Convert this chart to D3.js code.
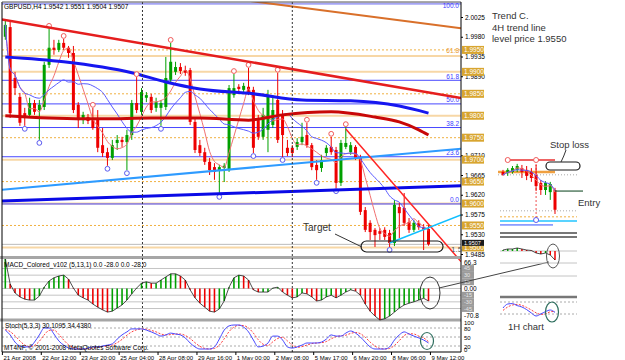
<!DOCTYPE html>
<html lang="en">
<head>
  <meta charset="UTF-8">
  <title>GBPUSD,H4</title>
  <script src="https://d3js.org/d3.v7.min.js"></script>
  <style>
    body, html { margin: 0; background: #fff; }
    svg { display: block; font-family: 'Liberation Sans', Arial, sans-serif; }
  </style>
</head>
<body>
<svg id="chart" width="625" height="360"></svg>
<script>
// ---- price bars (H4) ----
const openP = [1.9980,2.0002,1.9886,1.9843,1.9806,1.9802,1.9829,1.9813,1.9820,1.9916,
  1.9955,1.9950,1.9966,1.9955,1.9943,1.9825,1.9790,1.9797,1.9790,1.9795,
  1.9733,1.9717,1.9704,1.9738,1.9745,1.9740,1.9756,1.9829,1.9809,1.9841,
  1.9843,1.9818,1.9818,1.9820,1.9882,1.9900,1.9911,1.9904,1.9904,1.9786,
  1.9733,1.9717,1.9695,1.9683,1.9676,1.9681,1.9676,1.9847,1.9866,1.9859,
  1.9866,1.9859,1.9790,1.9752,1.9768,1.9779,1.9836,1.9802,1.9727,1.9727,
  1.9729,1.9740,1.9756,1.9733,1.9688,1.9681,1.9715,1.9729,1.9722,1.9647,
  1.9729,1.9717,1.9729,1.9704,1.9585,1.9556,1.9540,1.9537,1.9540,1.9533,
  1.9510,1.9592,1.9590,1.9558,1.9540,1.9556,1.9546,1.9542];
const highP = [2.0018,2.0014,1.9900,1.9852,1.9818,1.9841,1.9836,1.9836,1.9923,1.9998,
  1.9973,1.9973,1.9975,1.9959,1.9959,1.9831,1.9809,1.9804,1.9818,1.9813,
  1.9772,1.9727,1.9745,1.9756,1.9752,1.9768,1.9836,1.9888,1.9863,1.9854,
  1.9850,1.9841,1.9836,1.9934,1.9966,1.9923,1.9920,1.9914,1.9909,1.9795,
  1.9745,1.9727,1.9704,1.9692,1.9688,1.9692,1.9870,1.9895,1.9872,1.9875,
  1.9909,1.9866,1.9802,1.9818,1.9859,1.9847,1.9898,1.9813,1.9745,1.9733,
  1.9749,1.9784,1.9784,1.9738,1.9699,1.9711,1.9733,1.9752,1.9729,1.9745,
  1.9774,1.9740,1.9733,1.9711,1.9592,1.9562,1.9544,1.9544,1.9546,1.9540,
  1.9608,1.9601,1.9624,1.9567,1.9562,1.9562,1.9553,1.9551];
const lowP = [1.9973,1.9795,1.9847,1.9777,1.9777,1.9795,1.9802,1.9745,1.9813,1.9909,
  1.9939,1.9945,1.9950,1.9932,1.9806,1.9772,1.9781,1.9781,1.9768,1.9717,
  1.9706,1.9686,1.9699,1.9722,1.9729,1.9676,1.9745,1.9806,1.9802,1.9831,
  1.9806,1.9809,1.9777,1.9813,1.9877,1.9893,1.9895,1.9891,1.9779,1.9715,
  1.9708,1.9688,1.9665,1.9654,1.9622,1.9649,1.9672,1.9841,1.9854,1.9852,
  1.9847,1.9715,1.9745,1.9745,1.9717,1.9772,1.9738,1.9706,1.9708,1.9706,
  1.9722,1.9733,1.9727,1.9676,1.9654,1.9672,1.9708,1.9711,1.9635,1.9640,
  1.9724,1.9711,1.9699,1.9574,1.9535,1.9517,1.9501,1.9517,1.9517,1.9501,
  1.9503,1.9521,1.9549,1.9533,1.9535,1.9540,1.9494,1.9504];
const closeP = [2.0007,1.9806,1.9863,1.9784,1.9797,1.9829,1.9809,1.9825,1.9916,1.9955,
  1.9950,1.9966,1.9955,1.9943,1.9813,1.9790,1.9802,1.9788,1.9772,1.9727,
  1.9715,1.9704,1.9733,1.9745,1.9740,1.9756,1.9829,1.9813,1.9854,1.9847,
  1.9813,1.9831,1.9829,1.9886,1.9923,1.9911,1.9902,1.9898,1.9786,1.9722,
  1.9715,1.9695,1.9676,1.9672,1.9683,1.9686,1.9863,1.9863,1.9861,1.9868,
  1.9854,1.9727,1.9752,1.9802,1.9847,1.9813,1.9745,1.9756,1.9715,1.9715,
  1.9740,1.9752,1.9733,1.9683,1.9676,1.9699,1.9727,1.9717,1.9647,1.9738,
  1.9738,1.9733,1.9704,1.9581,1.9540,1.9535,1.9528,1.9531,1.9524,1.9510,
  1.9597,1.9578,1.9556,1.9540,1.9556,1.9546,1.9540,1.9507];

const fractalUp = [9, 12, 18, 27, 34, 47, 50, 56, 62, 67, 70];
const fractalDown = [4, 7, 21, 25, 32, 44, 51, 57, 64, 68, 79];

// slow moving averages, read at a few bars
const blueMaBars = [0, 12, 26, 33, 40, 51, 61, 71, 81, 87];
const blueMa = [1.9934, 1.9923, 1.9898, 1.9877, 1.9861, 1.9850, 1.9836, 1.9834, 1.9822, 1.9806];
const redMaBars = [0, 9, 20, 30, 40, 50, 57, 67, 76, 81, 85, 87];
const redMa = [1.9800, 1.9795, 1.9793, 1.9795, 1.9795, 1.9790, 1.9802, 1.9809, 1.9797, 1.9786, 1.9768, 1.9756];

// trend lines [bar, price]
const resistLine = [[0, 2.0018], [87, 1.9853]];
const upperLine = [[50, 2.0062], [87, 2.0009]];
const supportLine = [[0, 1.9632], [87, 1.9718]];
const baseLine = [[0, 1.9606], [87, 1.9638]];
const trendC = [[70, 1.9770], [87, 1.9553]];
const shortSupport = [[79, 1.9510], [87, 1.9545]];

const priceTicks = [2.0025,1.9980,1.9935,1.9890,1.9845,1.9800,1.9755,1.9710,1.9665,1.9620,1.9575,1.9530,1.9485];
const solidLevels = [1.9900, 1.9800, 1.9700, 1.9600, 1.9500];
const dashedLevels = [1.9950, 1.9850, 1.9750, 1.9650, 1.9550];
const fibLow = 1.9599, fibHigh = 2.0055;
const fibLevels = [0, 23.6, 38.2, 50, 61.8, 100];
const orangeFib = 1.9936;
const lastPrice = 1.9507;
const separatorBars = [28.2, 59];

// MACD_Colored (5,13,1)
const macd = [66.3,10,-10,-19,-24,-26,-26,-17,3,17,
  24,28,30,21,1,-15,-21,-26,-35,-42,
  -48,-53,-51,-44,-37,-26,-12,1,12,15,
  12,12,19,26,33,33,28,19,-3,-21,
  -33,-42,-51,-53,-46,-28,3,24,30,28,
  19,-3,-8,-8,-8,1,3,-8,-15,-21,
  -19,-10,-12,-19,-28,-26,-19,-15,-21,-15,
  -8,-3,-6,-15,-35,-51,-62,-70.8,-68,-62,
  -53,-44,-37,-33,-30,-26,-22,-28];
const macdLevels = [45, 30, 15, 0, -15, -30, -45];

// Stoch(5,3,3)
const stochMain = [73,57,33,20,17,17,33,57,80,80,60,37,23,13,10,10,10,13,17,17,
  20,23,27,43,57,67,77,77,77,73,67,60,53,57,63,60,57,47,30,17,
  10,10,10,17,43,73,87,90,90,83,67,40,17,20,30,53,53,40,17,13,
  17,23,30,30,30,33,43,57,53,53,63,70,63,50,33,17,10,10,10,17,
  40,57,67,60,53,47,40,30.1];
const stochSignal = [75,68,54,37,23,18,22,36,57,72,73,59,40,24,15,11,10,11,13,16,
  18,20,23,31,42,56,67,74,77,76,72,67,60,57,58,60,60,55,45,31,
  19,12,10,12,23,44,68,83,89,88,80,63,41,26,22,34,45,49,37,23,
  16,18,23,28,30,31,35,44,51,54,56,62,65,61,49,33,20,12,10,12,
  22,38,55,61,60,53,47,34.4];
const stochTicks = [100, 80, 50, 20, 0];

const timeLabels = ["21 Apr 2008","22 Apr 12:00","23 Apr 20:00","25 Apr 04:00","28 Apr 08:00","29 Apr 16:00",
  "1 May 00:00","2 May 08:00","5 May 17:00","6 May 20:00","8 May 06:00","9 May 12:00"];

// 1H inset
const insetOpen = [1.9616,1.9613,1.9616,1.9622,1.9627,1.9622,1.9616,1.9608,1.9585,1.9565,1.9559,1.9565];
const insetHigh = [1.9622,1.9627,1.9633,1.9639,1.9636,1.9633,1.9627,1.9636,1.9593,1.9590,1.9588,1.9571];
const insetLow = [1.9605,1.9605,1.9611,1.9616,1.9599,1.9593,1.9588,1.9562,1.9551,1.9551,1.9537,1.9497];
const insetClose = [1.9608,1.9622,1.9627,1.9633,1.9616,1.9605,1.9599,1.9576,1.9565,1.9585,1.9582,1.9509];
const insetMacd = [1,2,2,3,2,1,0.5,-2,-3,-2,-4,-9];
const insetStoch = [50,70,72,62,55,42,25,10,20,32,40,28];
const insetSignal = [38,55,65,68,63,53,40,26,18,21,31,33];

const svg = d3.select('#chart');
const L = 2, R = 461;
const x = d3.scaleLinear().domain([0, 87]).range([5.3, 428.5]);
const y = d3.scaleLinear().domain([1.9485, 2.0025]).range([254, 17]);
const yM = d3.scaleLinear().domain([-70.8, 66.3]).range([320, 259]);
const yS = d3.scaleLinear().domain([0, 100]).range([352, 322]);
const green = '#00a000', red = '#ee0000';

const defs = svg.append('defs');
defs.append('clipPath').attr('id', 'pc').append('rect').attr('x', L).attr('y', 2).attr('width', R - L).attr('height', 254);
defs.append('clipPath').attr('id', 'pc2').append('rect').attr('x', L).attr('y', 2).attr('width', R - L).attr('height', 261);

const g = svg.append('g').attr('clip-path', 'url(#pc)');

// round number levels
solidLevels.forEach(p => g.append('line').attr('x1', L).attr('x2', R).attr('y1', y(p)).attr('y2', y(p))
  .attr('stroke', '#f7d7a6').attr('stroke-width', 2));
g.append('line').attr('x1', L).attr('x2', R).attr('y1', y(orangeFib)).attr('y2', y(orangeFib))
  .attr('stroke', '#f7d7a6').attr('stroke-width', 2);
dashedLevels.forEach(p => g.append('line').attr('x1', L).attr('x2', R).attr('y1', y(p)).attr('y2', y(p))
  .attr('stroke', '#f0b040').attr('stroke-dasharray', '2,2'));

// fibo
fibLevels.forEach(l => {
  const p = fibLow + (fibHigh - fibLow) * l / 100;
  g.append('line').attr('x1', L).attr('x2', R).attr('y1', y(p)).attr('y2', y(p))
    .attr('stroke', l === 100 ? '#a4a4f4' : '#4848ff').attr('stroke-width', l === 100 ? 2 : 1);
  g.append('text').attr('x', 459).attr('y', Math.max(y(p) - 1.5, 8)).attr('text-anchor', 'end')
    .attr('font-size', '6.5px').attr('fill', '#3c3cff').text(l.toFixed(1));
});
g.append('text').attr('x', 459).attr('y', y(orangeFib) - 3).attr('text-anchor', 'end')
  .attr('font-size', '6.5px').attr('fill', '#e89a30').text('61.8');

// bid line
g.append('line').attr('x1', L).attr('x2', R).attr('y1', y(lastPrice)).attr('y2', y(lastPrice)).attr('stroke', '#bbb');

// candles
d3.range(openP.length).forEach(i => {
  const up = closeP[i] >= openP[i];
  const c = up ? green : red;
  g.append('line').attr('x1', x(i)).attr('x2', x(i)).attr('y1', y(highP[i])).attr('y2', y(lowP[i]))
    .attr('stroke', c).attr('stroke-width', 1);
  const top = y(Math.max(openP[i], closeP[i])), bot = y(Math.min(openP[i], closeP[i]));
  g.append('rect').attr('x', x(i) - 1.5).attr('y', top).attr('width', 3).attr('height', Math.max(1, bot - top)).attr('fill', c);
});

// fast moving averages from closes
const sma = (arr, n) => arr.map((d, i) => d3.mean(arr.slice(Math.max(0, i - n + 1), i + 1)));
const pLine = d3.line().x((d, i) => x(i)).y(d => y(d)).curve(d3.curveMonotoneX);
g.append('path').attr('d', pLine(sma(closeP, 5))).attr('fill', 'none').attr('stroke', '#f07070').attr('stroke-width', 1);
g.append('path').attr('d', pLine(sma(closeP, 13))).attr('fill', 'none').attr('stroke', '#5a5aff').attr('stroke-width', 1);

// slow moving averages
const maLine = d3.line().x(d => x(d[0])).y(d => y(d[1])).curve(d3.curveMonotoneX);
g.append('path').attr('d', maLine(redMaBars.map((b, i) => [b, redMa[i]]))).attr('fill', 'none')
  .attr('stroke', '#c80808').attr('stroke-width', 3);
g.append('path').attr('d', maLine(blueMaBars.map((b, i) => [b, blueMa[i]]))).attr('fill', 'none')
  .attr('stroke', '#1616f0').attr('stroke-width', 3);

// trend lines, extended to the right edge
function trend(pts, color, w, fromLeft, clip) {
  const [a, b] = pts;
  const x0 = x(a[0]), y0 = y(a[1]), x1 = x(b[0]), y1 = y(b[1]);
  const k = (y1 - y0) / (x1 - x0);
  const xs = fromLeft ? L : x0;
  svg.append('line').attr('clip-path', clip || 'url(#pc)')
    .attr('x1', xs).attr('y1', y0 + k * (xs - x0)).attr('x2', R).attr('y2', y0 + k * (R - x0))
    .attr('stroke', color).attr('stroke-width', w);
}
trend(upperLine, '#d9702a', 2, true);
trend(resistLine, '#e51e1e', 2.5, true);
trend(supportLine, '#2e9bff', 2, true);
trend(baseLine, '#0a0ae6', 3, true);
trend(trendC, '#ff2424', 1.5, false, 'url(#pc2)');
trend(shortSupport, '#10bfff', 1.5, false);

// fractals
fractalUp.forEach(i => g.append('circle').attr('cx', x(i)).attr('cy', y(highP[i]) - 3).attr('r', 2.4)
  .attr('fill', '#fff').attr('stroke', '#f05a5a'));
fractalDown.forEach(i => g.append('circle').attr('cx', x(i)).attr('cy', y(lowP[i]) + 3).attr('r', 2.4)
  .attr('fill', '#fff').attr('stroke', '#5a5af0'));

svg.append('text').attr('x', 4).attr('y', 9).attr('font-size', '6.5px').attr('fill', '#000')
  .text('GBPUSD,H4  1.9542 1.9551 1.9504 1.9507');

// panel separators and frame
svg.append('rect').attr('x', 0).attr('y', 256).attr('width', R).attr('height', 3).attr('fill', '#a6a6a6');
svg.append('rect').attr('x', 0).attr('y', 318.5).attr('width', R).attr('height', 3).attr('fill', '#a6a6a6');
separatorBars.forEach(b => svg.append('line').attr('x1', x(b)).attr('x2', x(b)).attr('y1', 2).attr('y2', 352)
  .attr('stroke', '#333').attr('stroke-dasharray', '2,2'));

// MACD panel
macdLevels.forEach(v => svg.append('line').attr('x1', L).attr('x2', R).attr('y1', yM(v)).attr('y2', yM(v))
  .attr('stroke', '#c4c4c4'));
macd.forEach((v, i) => {
  const c = i === 0 || v >= macd[i - 1] ? green : red;
  svg.append('line').attr('x1', x(i)).attr('x2', x(i)).attr('y1', yM(0)).attr('y2', yM(v))
    .attr('stroke', c).attr('stroke-width', 1.6);
});
svg.append('path').attr('d', d3.line().x((d, i) => x(i)).y(d => yM(d))(macd))
  .attr('fill', 'none').attr('stroke', '#222').attr('stroke-width', 0.8);
svg.append('text').attr('x', 4).attr('y', 267).attr('font-size', '6.5px')
  .text('MACD_Colored_v102 (5,13,1) 0.0 -28.0 0.0 -28.0');

// Stoch panel
[80, 50, 20].forEach(v => svg.append('line').attr('x1', L).attr('x2', R).attr('y1', yS(v)).attr('y2', yS(v))
  .attr('stroke', '#aaa').attr('stroke-dasharray', '2,2'));
const sLine = d3.line().x((d, i) => x(i)).y(d => yS(d)).curve(d3.curveMonotoneX);
svg.append('path').attr('d', sLine(stochSignal)).attr('fill', 'none').attr('stroke', '#ff3c3c').attr('stroke-dasharray', '2,1.5');
svg.append('path').attr('d', sLine(stochMain)).attr('fill', 'none').attr('stroke', '#4646ff');
svg.append('text').attr('x', 5).attr('y', 328).attr('font-size', '6.5px').text('Stoch(5,3,3) 30.1095 34.4380');
svg.append('text').attr('x', 4).attr('y', 350).attr('font-size', '6.5px')
  .text('MT4NF, \u00a9 2001-2008 MetaQuotes Software Corp.');

// frame
svg.append('line').attr('x1', L).attr('x2', L).attr('y1', 2).attr('y2', 352).attr('stroke', '#000');
svg.append('line').attr('x1', L).attr('x2', R).attr('y1', 2).attr('y2', 2).attr('stroke', '#555');
svg.append('line').attr('x1', L).attr('x2', R).attr('y1', 352).attr('y2', 352).attr('stroke', '#000');

// price axis; ticks hidden under a level box are left out, as on the terminal
const levelBoxes = solidLevels.concat(dashedLevels);
const shownTicks = priceTicks.filter(t => levelBoxes.every(p => Math.abs(y(p) - y(t)) > 3.5));
const ax = svg.append('g').attr('transform', `translate(${R},0)`)
  .call(d3.axisRight(y).tickValues(shownTicks).tickSize(2).tickPadding(2).tickFormat(d3.format('.4f')));
ax.select('.domain').remove();
ax.selectAll('text').attr('font-size', '6.5px').attr('font-family', null);
svg.append('line').attr('x1', R).attr('x2', R).attr('y1', 2).attr('y2', 352).attr('stroke', '#000');

levelBoxes.forEach(p => {
  svg.append('rect').attr('x', 462).attr('y', y(p) - 4).attr('width', 22).attr('height', 8).attr('fill', '#d8a530');
  svg.append('text').attr('x', 464).attr('y', y(p) + 2.4).attr('font-size', '6.5px').attr('fill', '#fff').text(p.toFixed(4));
});
svg.append('rect').attr('x', 462).attr('y', y(lastPrice) - 4.5).attr('width', 22).attr('height', 6).attr('fill', '#1a1a1a');
svg.append('text').attr('x', 464).attr('y', y(lastPrice) + 1).attr('font-size', '5.5px').attr('fill', '#fff').text(lastPrice.toFixed(4));

// MACD axis
macdLevels.filter(v => v !== 0).forEach(v => {
  svg.append('rect').attr('x', 462).attr('y', yM(v) - 3.4).attr('width', 12).attr('height', 6.8).attr('fill', '#9b9b9b');
  svg.append('text').attr('x', 464).attr('y', yM(v) + 2).attr('font-size', '5.5px').attr('fill', '#e8e8e8').text(v);
});
svg.append('text').attr('x', 464).attr('y', yM(0) + 2.3).attr('font-size', '6.5px').text('0.00');
svg.append('text').attr('x', 464).attr('y', 265).attr('font-size', '6.5px').text('66.3');
svg.append('text').attr('x', 464).attr('y', 318).attr('font-size', '6.5px').text('-70.8');

// Stoch axis
stochTicks.forEach(v => svg.append('text').attr('x', 464).attr('y', Math.min(yS(v) + 2.5, 352)).attr('font-size', '6px').text(v));

// time axis
timeLabels.forEach((t, k) => {
  const tx = x(k * 8 - 0.6);
  svg.append('line').attr('x1', tx).attr('x2', tx).attr('y1', 352).attr('y2', 355).attr('stroke', '#000');
  svg.append('text').attr('x', tx + 1).attr('y', 359.5).attr('font-size', '6px').text(t);
});

// annotations on the main chart
svg.append('rect').attr('x', 361).attr('y', 241).attr('width', 82).attr('height', 11).attr('rx', 5.5)
  .attr('fill', 'none').attr('stroke', '#1a1a1a').attr('stroke-width', 1.2);
svg.append('line').attr('x1', 335).attr('y1', 234).attr('x2', 362).attr('y2', 247).attr('stroke', '#333');
svg.append('text').attr('x', 303).attr('y', 231).attr('font-size', '10px').attr('fill', '#333').text('Target');
svg.append('text').attr('x', 451).attr('y', 252).attr('font-size', '8px').attr('fill', '#555').text('1.5');
svg.append('ellipse').attr('cx', 430).attr('cy', 293).attr('rx', 10).attr('ry', 16)
  .attr('fill', 'none').attr('stroke', '#333');
svg.append('ellipse').attr('cx', 427).attr('cy', 341).attr('rx', 6.5).attr('ry', 8.5)
  .attr('fill', 'none').attr('stroke', '#2f6f5f').attr('stroke-width', 1.2);
svg.append('line').attr('x1', 439).attr('y1', 288).attr('x2', 549).attr('y2', 262).attr('stroke', '#444');

['Trend C.', '4H trend line', 'level price 1.9550'].forEach((t, i) =>
  svg.append('text').attr('x', 492).attr('y', 19 + i * 11.5).attr('font-size', '9.5px').attr('fill', '#333').text(t));

// ---- 1H inset ----
const xi = d3.scaleLinear().domain([0, 11]).range([503, 555]);
const yi = d3.scaleLinear().domain([1.9480, 1.9650]).range([220, 160]);
const hl = (y0, x0, x1, color, w, dash) => svg.append('line').attr('x1', x0).attr('x2', x1).attr('y1', y0).attr('y2', y0)
  .attr('stroke', color).attr('stroke-width', w || 1).attr('stroke-dasharray', dash || null);
hl(yi(1.9650), 508, 555, '#e83030', 1.5);
hl(yi(1.9616), 498, 555, '#f0a040', 2.5);
hl(yi(1.9608), 498, 577, '#aaa', 1, '1,2');
hl(yi(1.9506), 500, 577, '#aaa', 1, '1,2');
hl(yi(1.9489), 500, 577, '#f0b040', 1, '2,2');
hl(yi(1.9477), 500, 577, '#22c4ff', 1.5);
hl(yi(1.9466), 500, 553, '#3050ff', 1);
svg.append('line').attr('x1', xi(7)).attr('x2', xi(7)).attr('y1', yi(1.9650)).attr('y2', yi(1.9480))
  .attr('stroke', '#f05050').attr('stroke-dasharray', '2,2');
d3.range(insetOpen.length).forEach(i => {
  const c = insetClose[i] >= insetOpen[i] ? green : red;
  svg.append('line').attr('x1', xi(i)).attr('x2', xi(i)).attr('y1', yi(insetHigh[i])).attr('y2', yi(insetLow[i])).attr('stroke', c);
  const t = yi(Math.max(insetOpen[i], insetClose[i])), b = yi(Math.min(insetOpen[i], insetClose[i]));
  svg.append('rect').attr('x', xi(i) - 1.5).attr('y', t).attr('width', 3).attr('height', Math.max(1, b - t)).attr('fill', c);
});
const iLine = d3.line().x((d, i) => xi(i)).y(d => yi(d)).curve(d3.curveMonotoneX);
svg.append('path').attr('d', iLine(sma(insetClose, 3))).attr('fill', 'none').attr('stroke', '#f07070');
svg.append('path').attr('d', iLine(sma(insetClose, 5))).attr('fill', 'none').attr('stroke', '#5a5aff');
svg.append('circle').attr('cx', xi(1)).attr('cy', yi(1.9650)).attr('r', 2.5).attr('fill', '#fff').attr('stroke', '#f05a5a');
svg.append('circle').attr('cx', xi(7)).attr('cy', yi(1.9650)).attr('r', 2.5).attr('fill', '#fff').attr('stroke', '#f05a5a');
svg.append('circle').attr('cx', xi(7)).attr('cy', yi(1.9480)).attr('r', 2.5).attr('fill', '#fff').attr('stroke', '#5a5af0');

hl(yi(1.9562), 555, 583, '#2e5e3e', 1.2);
svg.append('text').attr('x', 578).attr('y', 206).attr('font-size', '9.5px').attr('fill', '#333').text('Entry');
svg.append('rect').attr('x', 546).attr('y', 162).attr('width', 34).attr('height', 8).attr('rx', 4)
  .attr('fill', 'none').attr('stroke', '#1a1a1a').attr('stroke-width', 1.2);
svg.append('path').attr('d', 'M566,150 Q564,156 561,162').attr('fill', 'none').attr('stroke', '#333');
svg.append('text').attr('x', 550).attr('y', 148).attr('font-size', '9.5px').attr('fill', '#333').text('Stop loss');

// inset MACD
hl(233, 500, 577, '#777', 2);
hl(237, 500, 577, '#777', 2);
const ym = d3.scaleLinear().domain([-12, 12]).range([263, 239]);
[251, 263, 276].forEach(v => hl(v, 500, 577, '#c4c4c4', 1));
insetMacd.forEach((v, i) => {
  const c = i === 0 || v >= insetMacd[i - 1] ? green : red;
  svg.append('line').attr('x1', xi(i)).attr('x2', xi(i)).attr('y1', ym(0)).attr('y2', ym(v)).attr('stroke', c).attr('stroke-width', 1.5);
});
svg.append('path').attr('d', d3.line().x((d, i) => xi(i)).y(d => ym(d))(insetMacd)).attr('fill', 'none').attr('stroke', '#222').attr('stroke-width', 0.8);
svg.append('ellipse').attr('cx', 553).attr('cy', 256).attr('rx', 6.5).attr('ry', 12).attr('fill', 'none').attr('stroke', '#555');

// inset stoch
hl(297, 500, 577, '#777', 2.5);
const ys = d3.scaleLinear().domain([0, 100]).range([318, 298]);
[80, 20].forEach(v => hl(ys(v), 500, 577, '#aaa', 1, '2,2'));
const isLine = d3.line().x((d, i) => xi(i)).y(d => ys(d)).curve(d3.curveMonotoneX);
svg.append('path').attr('d', isLine(insetSignal)).attr('fill', 'none').attr('stroke', '#ff3c3c').attr('stroke-dasharray', '2,1.5');
svg.append('path').attr('d', isLine(insetStoch)).attr('fill', 'none').attr('stroke', '#4646ff');
svg.append('ellipse').attr('cx', 552).attr('cy', 312).attr('rx', 6.5).attr('ry', 10).attr('fill', 'none')
  .attr('stroke', '#2f6f5f').attr('stroke-width', 1.2);
svg.append('text').attr('x', 508).attr('y', 330).attr('font-size', '9.5px').attr('fill', '#333').text('1H chart');
</script>
</body>
</html>
